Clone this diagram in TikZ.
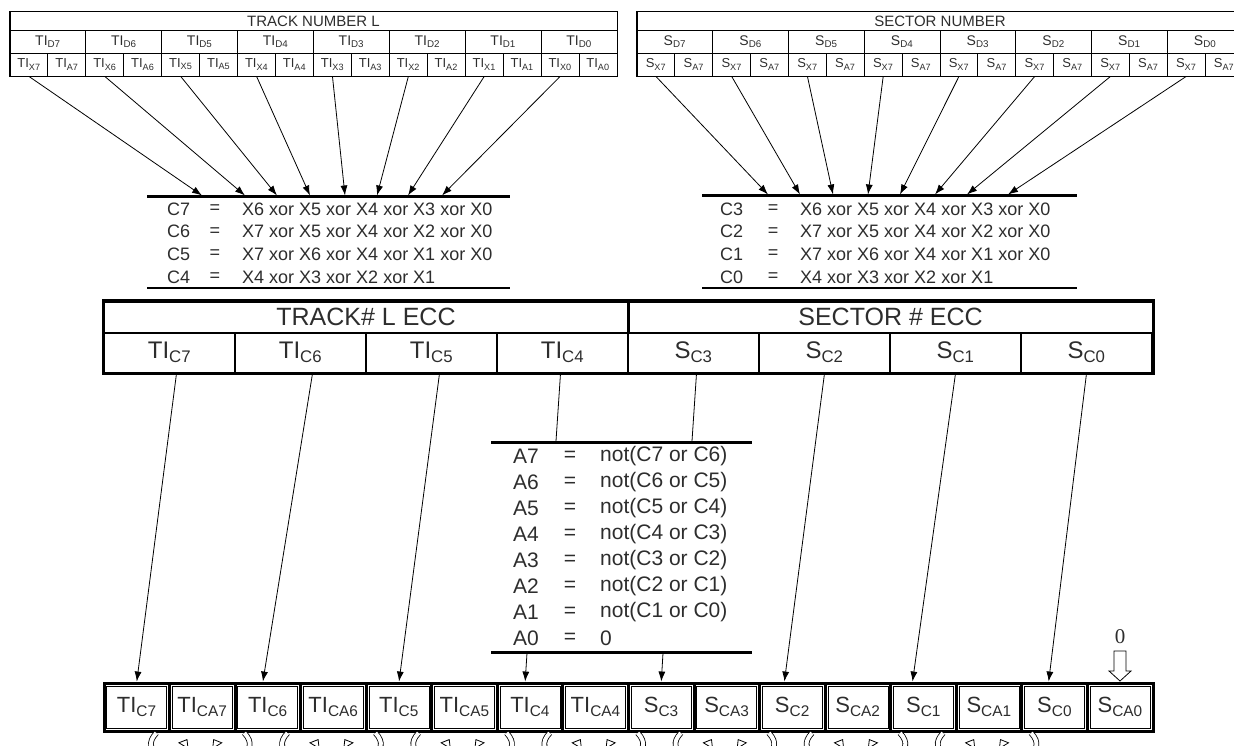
\documentclass[tikz,border=0pt]{standalone}
\usepackage{fontspec}
\setmainfont{Liberation Sans}
\newfontfamily\timesfont{Liberation Serif}
\usetikzlibrary{arrows.meta,calc}
\definecolor{txt}{RGB}{45,45,45}
\tikzset{
  tcell/.style={draw, line width=0.9pt, inner sep=0pt, text=txt},
  ttitle/.style={tcell, minimum height=18.5pt, font=\fontsize{15}{16}\selectfont},
  dcell/.style={tcell, minimum height=23pt, font=\fontsize{14}{15}\selectfont},
  xcell/.style={tcell, minimum height=23pt, font=\fontsize{13}{14}\selectfont},
  arr/.style={line width=0.8pt, -{Latex[length=10pt,width=7pt]}},
  conn/.style={line width=0.8pt},
  bar/.style={line width=3pt},
  thinbar/.style={line width=2pt},
  eq/.style={anchor=west, inner sep=0pt, text=txt, font=\fontsize{18}{20}\selectfont},
  eqmid/.style={anchor=center, inner sep=0pt, text=txt, font=\fontsize{18}{20}\selectfont},
  aq/.style={anchor=west, inner sep=0pt, text=txt, font=\fontsize{21}{22}\selectfont},
  aqmid/.style={anchor=center, inner sep=0pt, text=txt, font=\fontsize{21}{22}\selectfont},
  ecctitle/.style={draw, line width=2pt, inner sep=0pt, text=txt, minimum width=524pt, minimum height=31pt, font=\fontsize{25}{26}\selectfont},
  ecccell/.style={draw, line width=2pt, inner sep=0pt, text=txt, minimum width=131pt, minimum height=40pt, font=\fontsize{24}{25}\selectfont},
  regcell/.style={draw, line width=0.9pt, inner sep=0pt, text=txt, minimum width=60pt, minimum height=42pt, font=\fontsize{22}{23}\selectfont},
  hollowline/.style={double, double distance=4pt, line width=0.8pt},
  hollowtip/.style={line width=0.8pt, -{Triangle[open, fill=white, length=8pt, width=12pt]}},
}
\begin{document}
\begin{tikzpicture}[x=1pt,y=-1pt]
\useasboundingbox (0,0) rectangle (1234,746);
\clip (0,0) rectangle (1234,746);

% ---------- top left table ----------
\node[ttitle, minimum width=607pt] (tlT) at (313.5,21) {TRACK NUMBER L};
\foreach \i in {0,...,7} {
  \pgfmathtruncatemacro\d{7-\i}
  \node[dcell, minimum width=75.875pt] (tlD\d) at ({10+75.875*(\i+0.5)},41.5) {TI\textsubscript{D\d}};
  \node[xcell, minimum width=37.94pt] (tlX\d) at ({10+75.875*\i+18.97},64.5) {TI\textsubscript{X\d}};
  \node[xcell, minimum width=37.94pt] (tlA\d) at ({10+75.875*\i+56.9},64.5) {TI\textsubscript{A\d}};
}
\draw[line width=1.4pt] (tlT.north west) rectangle (tlA0.south east);

% ---------- top right table ----------
\node[ttitle, minimum width=606pt] (trT) at (940,21) {SECTOR NUMBER};
\foreach \i in {0,...,7} {
  \pgfmathtruncatemacro\d{7-\i}
  \node[dcell, minimum width=75.75pt] (rD\d) at ({637+75.75*(\i+0.5)},41.5) {S\textsubscript{D\d}};
  \node[xcell, minimum width=37.875pt] (rX\d) at ({637+75.75*\i+18.94},64.5) {S\textsubscript{X7}};
  \node[xcell, minimum width=37.875pt] (rA\d) at ({637+75.75*\i+56.8},64.5) {S\textsubscript{A7}};
}
\draw[line width=1.4pt] (trT.north west) rectangle (rA0.south east);

% ---------- left formula block ----------
\draw[bar] (147,197) -- (510,197);
\draw[thinbar] (147,288) -- (510,288);
\foreach \d/\x in {7/202,6/245,5/277,4/310,3/345,2/377,1/408,0/442} {
  \coordinate (lt\d) at (\x,195.5);
  \draw[arr] (tlX\d.south) -- (lt\d);
}
\foreach \k/\c/\f in {0/C7/X6 xor X5 xor X4 xor X3 xor X0, 1/C6/X7 xor X5 xor X4 xor X2 xor X0, 2/C5/X7 xor X6 xor X4 xor X1 xor X0, 3/C4/X4 xor X3 xor X2 xor X1} {
  \node[eq] (lc\k) at (167,{209+22.7*\k}) {\c};
  \node[eqmid] (le\k) at (215,{209+22.7*\k}) {=};
  \node[eq] (lf\k) at (242,{209+22.7*\k}) {\f};
}

% ---------- right formula block ----------
\draw[bar] (702,196) -- (1077,196);
\draw[thinbar] (702,288) -- (1077,288);
\foreach \d/\x in {7/768,6/800,5/833,4/868,3/900,2/935,1/967,0/1008} {
  \coordinate (rt\d) at (\x,194.5);
  \draw[arr] (rX\d.south) -- (rt\d);
}
\foreach \k/\c/\f in {0/C3/X6 xor X5 xor X4 xor X3 xor X0, 1/C2/X7 xor X5 xor X4 xor X2 xor X0, 2/C1/X7 xor X6 xor X4 xor X1 xor X0, 3/C0/X4 xor X3 xor X2 xor X1} {
  \node[eq] (rc\k) at (720,{209+22.7*\k}) {\c};
  \node[eqmid] (re\k) at (773,{209+22.7*\k}) {=};
  \node[eq] (rf\k) at (800,{209+22.7*\k}) {\f};
}

% ---------- middle ECC table ----------
\node[ecctitle] (tT) at (366,317) {TRACK\# L ECC};
\node[ecctitle] (sT) at (890.5,317) {SECTOR \# ECC};
\foreach \i/\n/\l in {0/tC7/TI\textsubscript{C7}, 1/tC6/TI\textsubscript{C6}, 2/tC5/TI\textsubscript{C5}, 3/tC4/TI\textsubscript{C4}, 4/sC3/S\textsubscript{C3}, 5/sC2/S\textsubscript{C2}, 6/sC1/S\textsubscript{C1}, 7/sC0/S\textsubscript{C0}} {
  \node[ecccell] (\n) at ({104+131*(\i+0.5)},352.5) {\l};
}
\draw[line width=3pt] (tT.north west) rectangle (sC0.south east);

% ---------- A block ----------
\draw[bar] (491,442) -- (752,442);
\draw[bar] (491,652) -- (752,652);
\foreach \k/\a/\r in {0/A7/not(C7 or C6), 1/A6/not(C6 or C5), 2/A5/not(C5 or C4), 3/A4/not(C4 or C3), 4/A3/not(C3 or C2), 5/A2/not(C2 or C1), 6/A1/not(C1 or C0), 7/A0/0} {
  \node[aq] (aa\k) at (513,{456+26*\k}) {\a};
  \node[aqmid] (ae\k) at (570,{456+26*\k}) {=};
  \node[aq] (ar\k) at (600,{456+26*\k}) {\r};
}

% ---------- bottom register ----------
\foreach \k/\l in {0/TI\textsubscript{C7},1/TI\textsubscript{CA7},2/TI\textsubscript{C6},3/TI\textsubscript{CA6},4/TI\textsubscript{C5},5/TI\textsubscript{CA5},6/TI\textsubscript{C4},7/TI\textsubscript{CA4},8/S\textsubscript{C3},9/S\textsubscript{CA3},10/S\textsubscript{C2},11/S\textsubscript{CA2},12/S\textsubscript{C1},13/S\textsubscript{CA1},14/S\textsubscript{C0},15/S\textsubscript{CA0}} {
  \node[regcell] (b\k) at ({104+65.5625*(\k+0.5)},707) {\l};
}
\draw[line width=3pt] (104,683) rectangle (1153,731);
\foreach \k in {1,...,15} {
  \draw[line width=3pt] ({104+65.5625*\k},683) -- ({104+65.5625*\k},731);
}

% ---------- connectors ECC -> register ----------
\draw[arr] ($(tC7.south)+(7,0)$) -- ($(b0.north)+(0,-4)$);
\draw[arr] ($(tC6.south)+(12,0)$) -- ($(b2.north)+(-5,-4)$);
\draw[arr] ($(tC5.south)+(8,0)$) -- ($(b4.north)+(0,-4)$);
\coordinate (aTL) at (556,441);
\coordinate (aTR) at (692,441);
\draw[conn] ($(tC4.south)+(-2,0)$) -- (aTL);
\draw[conn] ($(sC3.south)+(3,0)$) -- (aTR);
\draw[arr] (sC2.south) -- ($(b10.north)+(-8,-4)$);
\draw[arr] (sC1.south) -- ($(b12.north)+(-11,-4)$);
\draw[arr] (sC0.south) -- ($(b14.north)+(-6,-4)$);
\coordinate (aBL) at (527,653);
\coordinate (aBR) at (663,653);
\draw[arr] (aBL) -- ($(b6.north)+(-5,-4)$);
\draw[arr] (aBR) -- ($(b8.north)+(0,-4)$);

% ---------- zero input ----------
\node[font=\timesfont\fontsize{21}{22}\selectfont, text=txt, inner sep=0pt] (zero) at (1120,637) {0};
\draw[line width=0.8pt] (1114,651) -- (1126,651) -- (1126,671) -- (1131,671) -- (1120,681) -- (1109,671) -- (1114,671) -- cycle;

% ---------- hollow curved arrows under register ----------
\foreach \g in {0,...,6} {
  \pgfmathsetmacro\xc{104+65.5625*(2*\g+1.5)}
  \draw[hollowline] (\xc-46,733) .. controls (\xc-64,752) and (\xc-32,764) .. (\xc-21,749);
  \draw[hollowtip] (\xc-21,749) -- (\xc-15,739);
  \draw[hollowline] (\xc+42,733) .. controls (\xc+60,752) and (\xc+28,764) .. (\xc+17,749);
  \draw[hollowtip] (\xc+17,749) -- (\xc+11,739);
}
\end{tikzpicture}
\end{document}
